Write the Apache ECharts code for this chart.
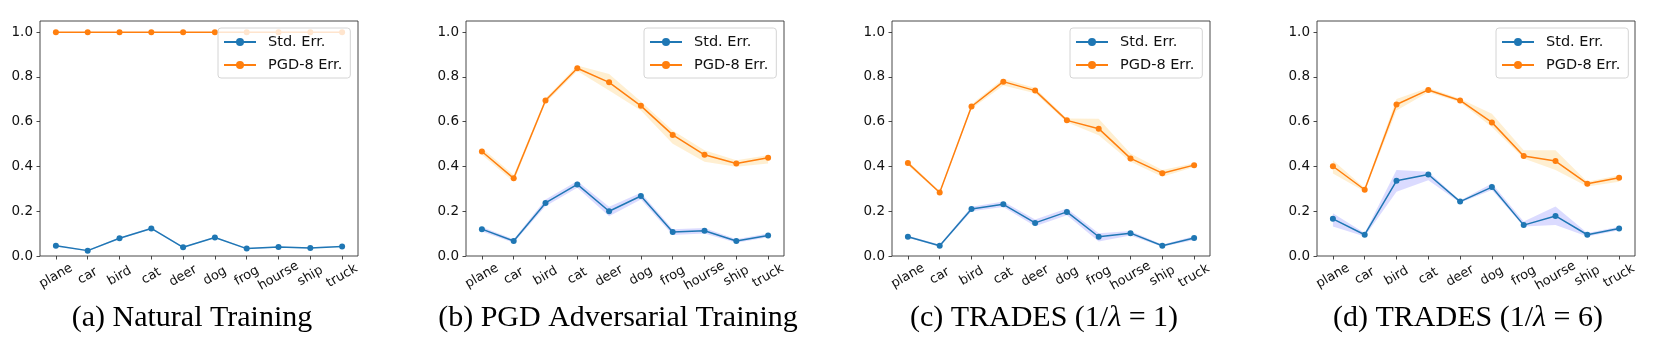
<!DOCTYPE html>
<html>
<head>
<meta charset="utf-8">
<script src="https://cdn.jsdelivr.net/npm/echarts@6/dist/echarts.min.js"></script>
<style>
    html, body { margin: 0; padding: 0; background: #fff; }
    #chart { width: 1662px; height: 351px; }
</style>
</head>
<body>
<div id="chart"></div>
<script>
var classes = ['plane', 'car', 'bird', 'cat', 'deer', 'dog', 'frog', 'hourse', 'ship', 'truck'];
var yTicks = [0, 0.2, 0.4, 0.6, 0.8, 1.0];

// (a) natural training
var natStd   = [0.046, 0.024, 0.079, 0.123, 0.039, 0.083, 0.033, 0.040, 0.036, 0.043];
var natStdLo = [0.043, 0.021, 0.075, 0.119, 0.036, 0.080, 0.030, 0.037, 0.033, 0.040];
var natStdHi = [0.049, 0.027, 0.083, 0.127, 0.042, 0.086, 0.036, 0.043, 0.039, 0.046];
var natPgd   = [1.0, 1.0, 1.0, 1.0, 1.0, 1.0, 1.0, 1.0, 1.0, 1.0];
var natPgdLo = [1.0, 1.0, 1.0, 1.0, 1.0, 1.0, 1.0, 1.0, 1.0, 1.0];
var natPgdHi = [1.0, 1.0, 1.0, 1.0, 1.0, 1.0, 1.0, 1.0, 1.0, 1.0];

// (b) PGD adversarial training
var advStd   = [0.120, 0.067, 0.237, 0.320, 0.200, 0.268, 0.107, 0.113, 0.067, 0.092];
var advStdLo = [0.110, 0.059, 0.222, 0.305, 0.178, 0.253, 0.094, 0.101, 0.059, 0.084];
var advStdHi = [0.130, 0.075, 0.252, 0.335, 0.220, 0.283, 0.120, 0.125, 0.075, 0.100];
var advPgd   = [0.467, 0.347, 0.695, 0.839, 0.776, 0.671, 0.541, 0.452, 0.413, 0.439];
var advPgdLo = [0.452, 0.332, 0.685, 0.827, 0.739, 0.650, 0.502, 0.421, 0.399, 0.413];
var advPgdHi = [0.482, 0.362, 0.705, 0.851, 0.813, 0.690, 0.561, 0.473, 0.428, 0.450];

// (c) TRADES 1/lambda = 1
var t1Std   = [0.086, 0.046, 0.210, 0.231, 0.148, 0.197, 0.086, 0.102, 0.046, 0.080];
var t1StdLo = [0.081, 0.041, 0.200, 0.219, 0.133, 0.182, 0.065, 0.092, 0.041, 0.072];
var t1StdHi = [0.091, 0.051, 0.220, 0.243, 0.163, 0.212, 0.102, 0.112, 0.051, 0.088];
var t1Pgd   = [0.415, 0.284, 0.668, 0.779, 0.739, 0.606, 0.569, 0.436, 0.370, 0.406];
var t1PgdLo = [0.405, 0.279, 0.658, 0.762, 0.727, 0.598, 0.539, 0.421, 0.354, 0.398];
var t1PgdHi = [0.425, 0.289, 0.678, 0.792, 0.751, 0.614, 0.613, 0.458, 0.384, 0.414];

// (d) TRADES 1/lambda = 6
var t6Std   = [0.166, 0.095, 0.336, 0.364, 0.243, 0.308, 0.138, 0.179, 0.095, 0.123];
var t6StdLo = [0.132, 0.087, 0.287, 0.339, 0.238, 0.295, 0.132, 0.139, 0.087, 0.115];
var t6StdHi = [0.191, 0.103, 0.384, 0.376, 0.248, 0.324, 0.154, 0.221, 0.103, 0.131];
var t6Pgd   = [0.401, 0.296, 0.677, 0.742, 0.695, 0.597, 0.447, 0.424, 0.323, 0.350];
var t6PgdLo = [0.369, 0.288, 0.650, 0.732, 0.687, 0.576, 0.436, 0.384, 0.310, 0.332];
var t6PgdHi = [0.428, 0.304, 0.702, 0.752, 0.703, 0.636, 0.473, 0.473, 0.332, 0.361];

var panels = [
    {left: 40,   legendLeft: 218,  capX: 192,  caption: '(a) Natural Training',
     std: natStd, stdLo: natStdLo, stdHi: natStdHi, pgd: natPgd, pgdLo: natPgdLo, pgdHi: natPgdHi},
    {left: 466,  legendLeft: 644,  capX: 618,  caption: '(b) PGD Adversarial Training',
     std: advStd, stdLo: advStdLo, stdHi: advStdHi, pgd: advPgd, pgdLo: advPgdLo, pgdHi: advPgdHi},
    {left: 892,  legendLeft: 1070, capX: 1044, caption: '(c) TRADES (1/{i|λ} = 1)',
     std: t1Std, stdLo: t1StdLo, stdHi: t1StdHi, pgd: t1Pgd, pgdLo: t1PgdLo, pgdHi: t1PgdHi},
    {left: 1317, legendLeft: 1496, capX: 1468, caption: '(d) TRADES (1/{i|λ} = 6)',
     std: t6Std, stdLo: t6StdLo, stdHi: t6StdHi, pgd: t6Pgd, pgdLo: t6PgdLo, pgdHi: t6PgdHi}
];

var blue = '#1f77b4';
var orange = '#ff7f0e';
var blueBand = 'rgba(0,0,255,0.14)';
var orangeBand = 'rgba(255,165,0,0.18)';

function diff(hi, lo) {
    return hi.map(function (v, k) { return +(v - lo[k]).toFixed(4); });
}

function bandSeries(i, key, lo, hi, color) {
    return [
        {
            type: 'line', xAxisIndex: i, yAxisIndex: i, stack: 'band' + i + key,
            data: lo, symbol: 'none', silent: true, z: 1,
            lineStyle: {opacity: 0}
        },
        {
            type: 'line', xAxisIndex: i, yAxisIndex: i, stack: 'band' + i + key,
            data: diff(hi, lo), symbol: 'none', silent: true, z: 1,
            lineStyle: {opacity: 0},
            areaStyle: {color: color, opacity: 1}
        }
    ];
}

var grids = [], xAxes = [], yAxes = [], legends = [], series = [], graphics = [];

panels.forEach(function (p, i) {
    grids.push({
        left: p.left, top: 21, width: 318, height: 235,
        show: true, borderColor: '#333', borderWidth: 0.9, backgroundColor: 'transparent'
    });
    xAxes.push({
        gridIndex: i,
        type: 'category',
        data: classes,
        boundaryGap: true,
        axisLine: {show: false},
        axisTick: {show: true, alignWithLabel: true, length: 3.5, lineStyle: {color: '#333', width: 0.9}},
        axisLabel: {
            interval: 0, rotate: 30, align: 'center', verticalAlign: 'middle', margin: 20,
            fontFamily: 'DejaVu Sans', fontSize: 13, color: '#111'
        },
        splitLine: {show: false}
    });
    yAxes.push({
        gridIndex: i,
        type: 'value',
        min: 0,
        max: 1.05,
        axisLine: {show: false},
        axisTick: {show: true, length: 3.5, lineStyle: {color: '#333', width: 0.9}, customValues: yTicks},
        axisLabel: {
            customValues: yTicks, margin: 7,
            formatter: function (v) { return v.toFixed(1); },
            fontFamily: 'DejaVu Sans', fontSize: 13.5, color: '#111'
        },
        splitLine: {show: false}
    });
    legends.push({
        left: p.legendLeft, top: 28,
        orient: 'vertical',
        data: ['Std. Err.', 'PGD-8 Err.'],
        selectedMode: false,
        itemWidth: 32, itemHeight: 10, itemGap: 5,
        padding: [5, 8, 4, 5],
        backgroundColor: 'rgba(255,255,255,0.8)',
        borderColor: '#d4d4d4', borderWidth: 1, borderRadius: 3,
        formatter: function (name) { return '{t|' + name + '}'; },
        textStyle: {
            fontFamily: 'DejaVu Sans', fontSize: 14.5, color: '#111', lineHeight: 18,
            rich: {t: {fontFamily: 'DejaVu Sans', fontSize: 14.5, color: '#111', lineHeight: 18, padding: [0, 0, 0, 7]}}
        }
    });

    series = series.concat(bandSeries(i, 's', p.stdLo, p.stdHi, blueBand));
    series = series.concat(bandSeries(i, 'p', p.pgdLo, p.pgdHi, orangeBand));
    series.push({
        name: 'Std. Err.', type: 'line', xAxisIndex: i, yAxisIndex: i,
        data: p.std, symbol: 'circle', symbolSize: 6, z: 3,
        lineStyle: {width: 1.5, color: blue}, itemStyle: {color: blue}
    });
    series.push({
        name: 'PGD-8 Err.', type: 'line', xAxisIndex: i, yAxisIndex: i,
        data: p.pgd, symbol: 'circle', symbolSize: 6, z: 3,
        lineStyle: {width: 1.5, color: orange}, itemStyle: {color: orange}
    });

    graphics.push({
        type: 'text',
        x: p.capX, y: 318,
        style: {
            text: p.caption,
            fontFamily: 'Liberation Serif', fontSize: 30,
            fill: '#000',
            align: 'center', verticalAlign: 'middle',
            rich: {i: {fontFamily: 'Liberation Serif', fontSize: 30, fontStyle: 'italic', fill: '#000'}}
        }
    });
});

var chart = echarts.init(document.getElementById('chart'));
chart.setOption({
    animation: false,
    grid: grids,
    xAxis: xAxes,
    yAxis: yAxes,
    legend: legends,
    series: series,
    graphic: graphics
});
</script>
</body>
</html>
